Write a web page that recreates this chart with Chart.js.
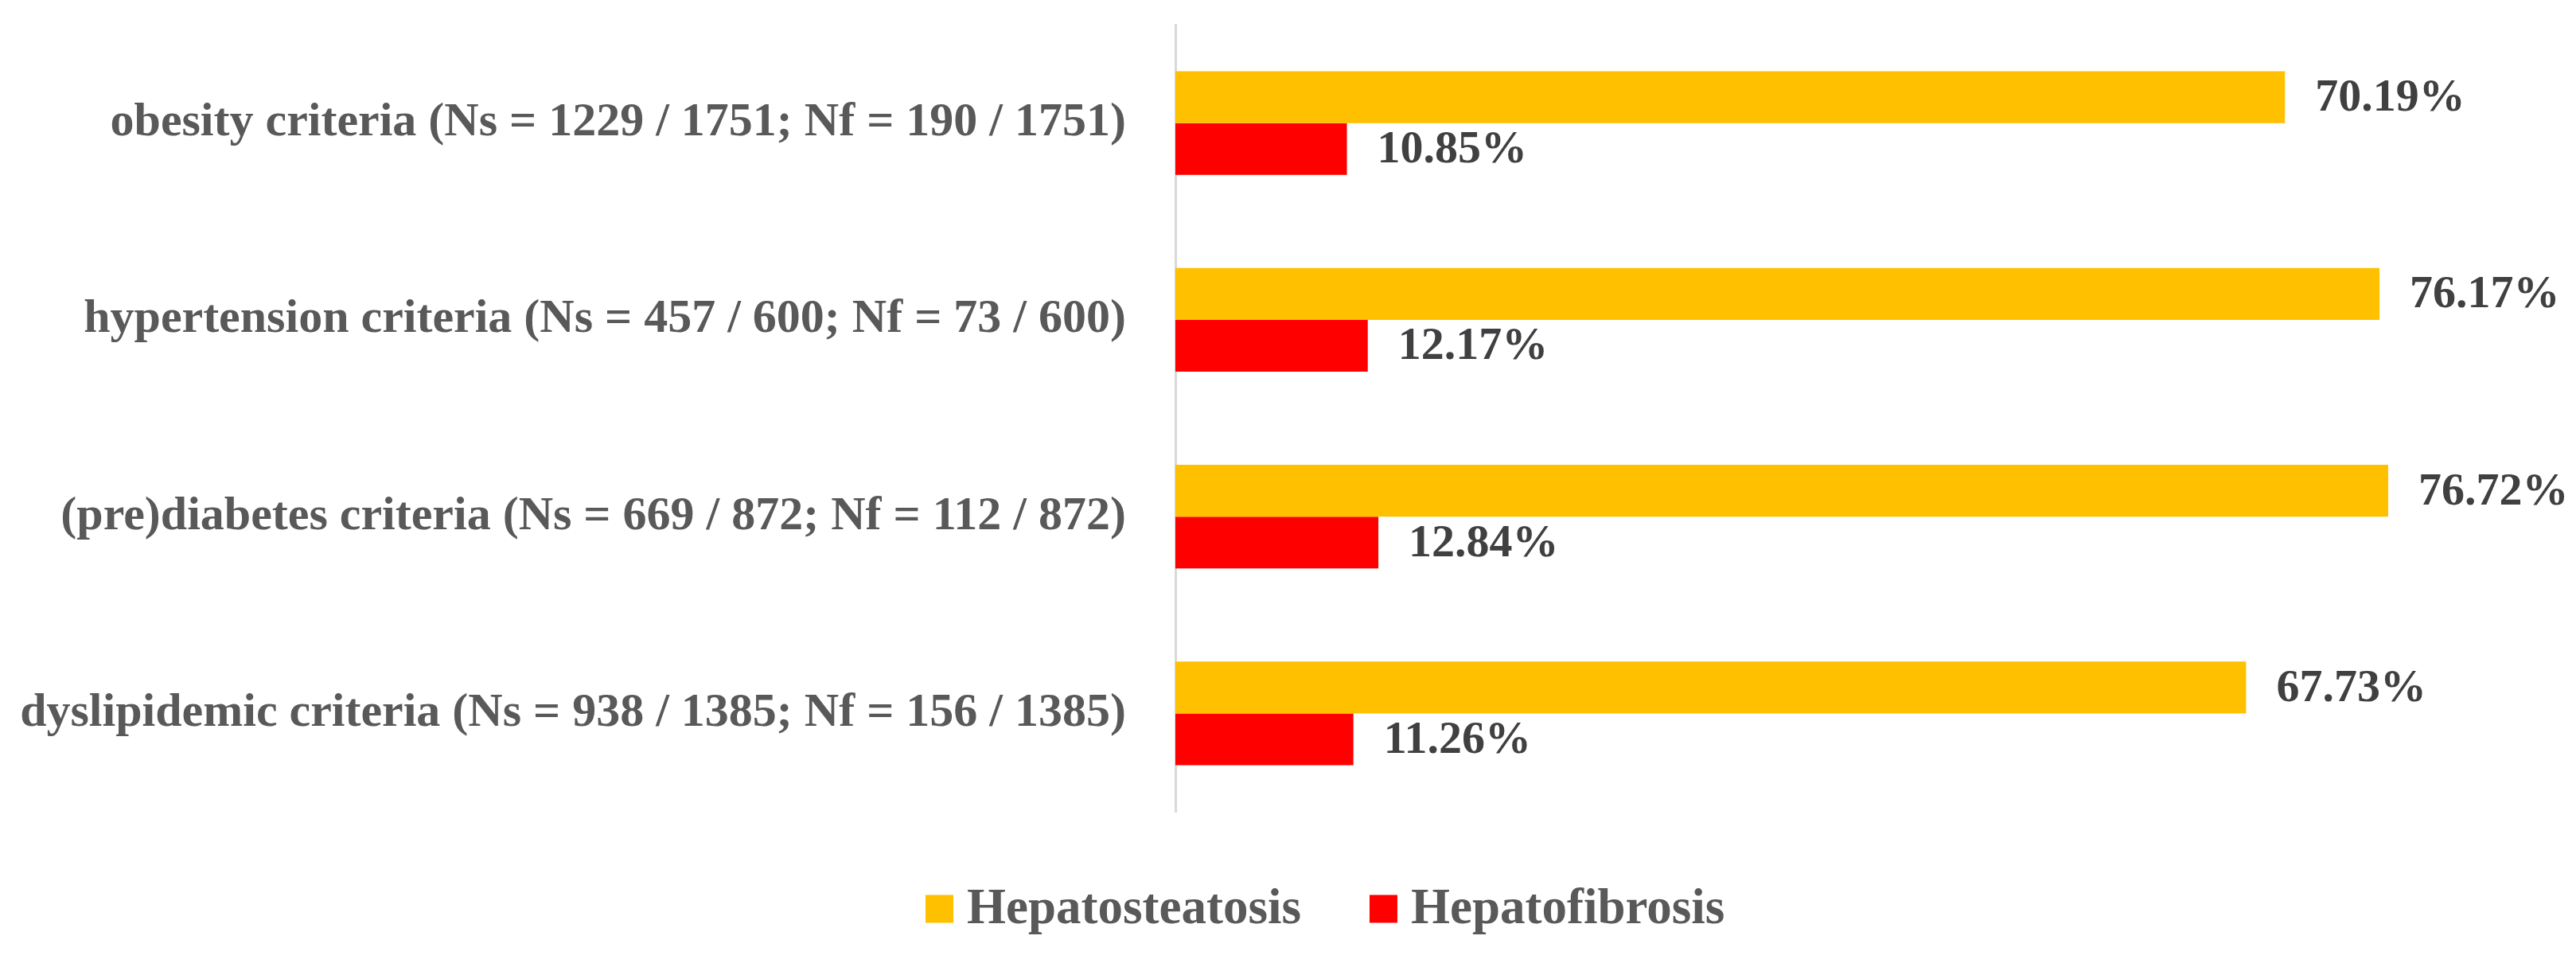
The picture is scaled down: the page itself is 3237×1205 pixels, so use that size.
<!DOCTYPE html>
<html>
<head>
<meta charset="utf-8">
<script src="https://cdn.jsdelivr.net/npm/chart.js@4.4.1/dist/chart.umd.min.js"></script>
<style>
    html, body { margin: 0; padding: 0; background: #ffffff; }
    #wrap { width: 3237px; height: 1205px; }
</style>
</head>
<body>
<div id="wrap"><canvas id="criteriaChart"></canvas></div>
<script>
const categories = [
    'obesity criteria (Ns = 1229 / 1751; Nf = 190 / 1751)',
    'hypertension criteria (Ns = 457 / 600; Nf = 73 / 600)',
    '(pre)diabetes criteria (Ns = 669 / 872; Nf = 112 / 872)',
    'dyslipidemic criteria (Ns = 938 / 1385; Nf = 156 / 1385)'
];
const steatosisValues = [70.19, 76.17, 76.72, 67.73];
const fibrosisValues = [10.85, 12.17, 12.84, 11.26];
const seriesNames = ['Hepatosteatosis', 'Hepatofibrosis'];
const seriesColors = ['#FFC000', '#FF0000'];

const fontFamily = "'Liberation Serif', 'Times New Roman', serif";

// percent labels to the right of each bar
const valueLabels = {
    id: 'valueLabels',
    afterDatasetsDraw(chart) {
        const ctx = chart.ctx;
        ctx.save();
        ctx.font = `bold 58px ${fontFamily}`;
        ctx.fillStyle = '#404040';
        ctx.textAlign = 'left';
        ctx.textBaseline = 'middle';
        chart.data.datasets.forEach((ds, i) => {
            chart.getDatasetMeta(i).data.forEach((bar, j) => {
                ctx.fillText(ds.data[j].toFixed(2) + '%', bar.x + 38, bar.y + 2);
            });
        });
        ctx.restore();
    }
};

// legend row under the plot
const bottomLegend = {
    id: 'bottomLegend',
    afterDraw(chart) {
        const ctx = chart.ctx;
        const box = 35, textGap = 17, itemGap = 86, midY = 1142;
        ctx.save();
        ctx.font = `bold 63px ${fontFamily}`;
        ctx.textBaseline = 'middle';
        ctx.textAlign = 'left';
        let x = 1163;
        chart.data.datasets.forEach((ds) => {
            const w = ctx.measureText(ds.label).width;
            ctx.fillStyle = ds.backgroundColor;
            ctx.fillRect(x, midY - box / 2, box, box);
            ctx.fillStyle = '#595959';
            ctx.fillText(ds.label, x + box + textGap, midY + 2);
            x += box + textGap + w + itemGap;
        });
        ctx.restore();
    }
};

const ctx = document.getElementById('criteriaChart').getContext('2d');
new Chart(ctx, {
    type: 'bar',
    data: {
        labels: categories,
        datasets: [
            {
                label: seriesNames[0],
                data: steatosisValues,
                backgroundColor: seriesColors[0],
                categoryPercentage: 0.526,
                barPercentage: 1.0
            },
            {
                label: seriesNames[1],
                data: fibrosisValues,
                backgroundColor: seriesColors[1],
                categoryPercentage: 0.526,
                barPercentage: 1.0
            }
        ]
    },
    options: {
        indexAxis: 'y',
        responsive: true,
        maintainAspectRatio: false,
        animation: false,
        layout: { padding: { top: 31, right: 0, left: 0, bottom: 0 } },
        plugins: {
            legend: { display: false },
            tooltip: { enabled: false }
        },
        scales: {
            x: {
                min: 0,
                max: 88.6,
                ticks: { display: false },
                grid: { display: false, drawTicks: false },
                border: { display: false },
                afterFit: (scale) => {
                    scale.height = 185;
                    scale.paddingLeft = 0;
                    scale.paddingRight = 0;
                }
            },
            y: {
                ticks: {
                    color: '#595959',
                    padding: 62,
                    font: { family: fontFamily, size: 60, weight: 'bold' }
                },
                grid: { display: false, drawTicks: false },
                border: { display: true, color: '#D9D9D9', width: 3 },
                afterFit: (scale) => {
                    scale.width = 1477;
                    scale.paddingTop = 0;
                    scale.paddingBottom = 0;
                }
            }
        }
    },
    plugins: [valueLabels, bottomLegend]
});
</script>
</body>
</html>
